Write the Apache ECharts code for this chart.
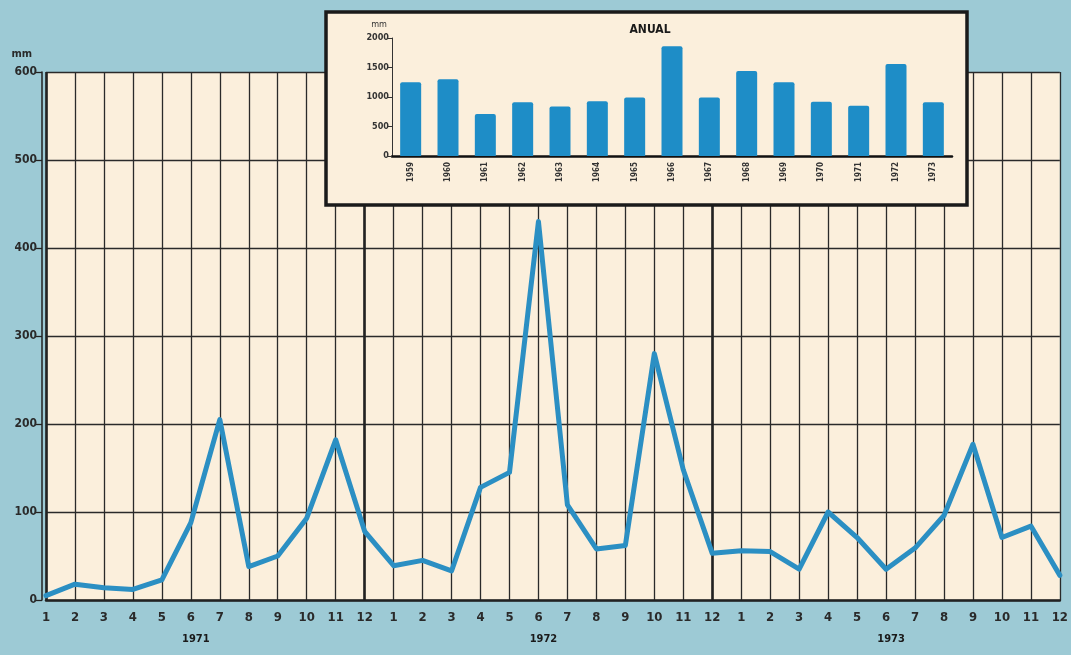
<!DOCTYPE html>
<html>
<head>
<meta charset="utf-8">
<script src="https://cdn.jsdelivr.net/npm/echarts@6/dist/echarts.min.js"></script>
<style>
html,body{margin:0;padding:0;background:#9dcad5;}
#c{width:1071px;height:655px;}
</style>
</head>
<body>
<div id="c"></div>
<script>
// Monthly rainfall (mm), 1971-1973
const years = ['1971', '1972', '1973'];
const months = ['1','2','3','4','5','6','7','8','9','10','11','12'];
const rain1971 = [5, 18, 14, 12, 23, 88, 205, 38, 50, 93, 182, 78];
const rain1972 = [39, 45, 33, 128, 145, 430, 108, 58, 62, 280, 148, 53];
const rain1973 = [56, 55, 35, 100, 71, 35, 59, 96, 177, 71, 84, 28];
const yTicks = [0, 100, 200, 300, 400, 500, 600];

// Annual totals (mm)
const annualYears = ['1959','1960','1961','1962','1963','1964','1965','1966','1967','1968','1969','1970','1971','1972','1973'];
const annualTotals = [1250, 1300, 710, 910, 840, 930, 990, 1860, 990, 1440, 1250, 920, 850, 1560, 910];
const annualTicks = [0, 500, 1000, 1500, 2000];

const categories = [];
years.forEach(y => months.forEach(m => categories.push(y + '-' + m)));
const monthly = rain1971.concat(rain1972, rain1973);

const font = '"Liberation Sans Narrow","DejaVu Sans Condensed","Liberation Sans",sans-serif';
const ink = '#222';
const cream = '#fbefdc';

const chart = echarts.init(document.getElementById('c'), null, {renderer: 'canvas'});
chart.setOption({
  backgroundColor: '#9dcad5',
  animation: false,
  title: {
    text: 'ANUAL',
    left: 645, top: 19, textAlign: 'center',
    textStyle: {fontFamily: font, fontWeight: 'bold', fontSize: 12, color: '#1a1a1a'},
    z: 10
  },
  graphic: [{
    type: 'rect', z: 5,
    shape: {x: 326, y: 12, width: 641, height: 193},
    style: {fill: cream, stroke: '#1a1a1a', lineWidth: 3.5}
  }],
  grid: [
    {left: 46, right: 9, top: 72, bottom: 55, show: true, backgroundColor: cream, borderWidth: 0},
    {left: 392, right: 119, top: 38, bottom: 499, z: 6}
  ],
  xAxis: [
    {
      type: 'category', gridIndex: 0, data: categories, boundaryGap: false,
      axisLine: {lineStyle: {color: ink, width: 2.5}},
      axisTick: {show: false},
      axisLabel: {
        interval: 0, margin: 7,
        formatter: function (v) {
          const p = v.split('-');
          return p[1] === '6' ? '{m|' + p[1] + '}\n{y|' + p[0] + '}' : '{m|' + p[1] + '}';
        },
        rich: {
          m: {fontFamily: font, fontSize: 13, fontWeight: 'bold', color: '#2a2a2a', lineHeight: 22},
          y: {fontFamily: font, fontSize: 11, fontWeight: 'bold', color: '#1a1a1a', lineHeight: 20, padding: [0, 0, 0, 10]}
        }
      },
      splitLine: {show: true, interval: 0, lineStyle: {color: '#2a2a2a', width: 1.3}}
    },
    {
      type: 'category', gridIndex: 1, data: annualYears, z: 6,
      axisLine: {lineStyle: {color: '#111', width: 2.5}},
      axisTick: {show: false},
      axisLabel: {rotate: 90, interval: 0, margin: 6, fontFamily: font, fontSize: 8, fontWeight: 'bold', color: '#333'}
    },
    {
      // year separators (thicker vertical lines)
      type: 'category', gridIndex: 0, data: categories, boundaryGap: false, position: 'bottom',
      axisLine: {show: false}, axisTick: {show: false}, axisLabel: {show: false},
      splitLine: {show: true, interval: function (i) { return i === 0 || i === 11 || i === 23; },
        lineStyle: {color: ink, width: 2.6}}
    }
  ],
  yAxis: [
    {
      type: 'value', gridIndex: 0, min: 0, max: 600, interval: 100, offset: 4,
      name: 'mm', nameLocation: 'end', nameGap: 12,
      nameTextStyle: {fontFamily: font, fontSize: 11, fontWeight: 'bold', color: '#2a2a2a', align: 'right', padding: [0, 10, 0, 0]},
      axisLine: {show: true, lineStyle: {color: ink, width: 1.5}},
      axisTick: {show: true, length: 6, lineStyle: {color: ink, width: 1.3}},
      axisLabel: {margin: 5, fontFamily: font, fontSize: 12, fontWeight: 'bold', color: '#2a2a2a',
        formatter: function (v) { return yTicks.indexOf(v) >= 0 ? String(v) : ''; }},
      splitLine: {show: true, lineStyle: {color: '#2a2a2a', width: 1.3}}
    },
    {
      type: 'value', gridIndex: 1, min: 0, max: 2000, interval: 500, z: 6,
      name: 'mm', nameLocation: 'end', nameGap: 9,
      nameTextStyle: {fontFamily: font, fontSize: 9, color: '#333', align: 'right', padding: [0, 5, 0, 0]},
      axisLine: {show: true, lineStyle: {color: '#333', width: 1}},
      axisTick: {show: true, length: 4, lineStyle: {color: '#333', width: 1}},
      axisLabel: {margin: 3, fontFamily: font, fontSize: 9, fontWeight: 'bold', color: '#333',
        formatter: function (v) { return annualTicks.indexOf(v) >= 0 ? String(v) : ''; }},
      splitLine: {show: false}
    }
  ],
  series: [
    {
      type: 'line', xAxisIndex: 0, yAxisIndex: 0, data: monthly,
      showSymbol: false, symbol: 'none', z: 3,
      lineStyle: {color: '#2b8fc3', width: 5, join: 'round', cap: 'round'}
    },
    {
      type: 'bar', xAxisIndex: 1, yAxisIndex: 1, data: annualTotals, z: 7,
      barWidth: 21,
      itemStyle: {color: '#1e8dc7', borderRadius: [2, 2, 0, 0]}
    }
  ]
});
</script>
</body>
</html>
